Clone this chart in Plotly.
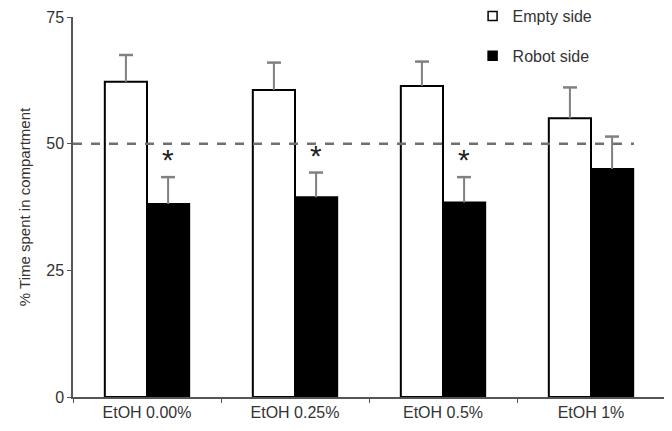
import plotly.graph_objects as go

groups = ['EtOH 0.00%', 'EtOH 0.25%', 'EtOH 0.5%', 'EtOH 1%']
empty_side = [62.2, 60.6, 61.4, 55.0]
empty_err = [5.3, 5.4, 4.8, 6.1]
robot_side = [38.1, 39.4, 38.4, 45.0]
robot_err = [5.3, 4.9, 5.0, 6.4]
signif = ['*', '*', '*', '']
chance_level = 50

font = 'Liberation Sans, Arial, sans-serif'
half = 0.142  # offset of each bar centre from the group centre
pos = list(range(len(groups)))

fig = go.Figure()
for name, vals, errs, col in [('Empty side', empty_side, empty_err, 'white'),
                              ('Robot side', robot_side, robot_err, 'black')]:
    fig.add_trace(go.Bar(x=groups, y=vals, name=name, showlegend=False,
                         marker=dict(color=col, line=dict(color='black', width=2)),
                         error_y=dict(type='data', array=errs, symmetric=False, arrayminus=[0]*4,
                                      color='#808080', thickness=2, width=0)))

# caps on top of the error bars (one-sided)
sh = [-half, half]
for k, (vals, errs) in enumerate([(empty_side, empty_err), (robot_side, robot_err)]):
    fig.add_trace(go.Scatter(x=[p + sh[k] for p in pos], y=[v + e for v, e in zip(vals, errs)],
                             xaxis='x2', mode='markers', showlegend=False, hoverinfo='skip',
                             marker=dict(symbol='line-ew', size=10, line=dict(color='#808080', width=2.5))))

# legend entries
for name, col, k in [('Empty side', 'white', 'a'), ('Robot side', 'black', 'b')]:
    fig.add_trace(go.Scatter(x=[None], y=[None], mode='markers', name=name, legendgroup=k,
                             marker=dict(symbol='square', size=9, color=col, line=dict(color='black', width=1.5))))

# significance stars above robot bars
for i, (v, e, s) in enumerate(zip(robot_side, robot_err, signif)):
    if s:
        fig.add_annotation(x=i + half, y=v + e, text=s, showarrow=False, xref='x2', yref='y',
                           yanchor='bottom', yshift=-1, font=dict(size=30, color='#222', family=font))

fig.add_shape(type='line', xref='x2', yref='y', x0=-0.5, x1=3.29, y0=chance_level, y1=chance_level,
              line=dict(color='#707070', width=2.5, dash='dash'), layer='above')

# page body has an 8px margin, so the figure is a little smaller than the window
fig.update_layout(
    width=664, height=423,
    barmode='group', bargap=0.43, bargroupgap=0,
    plot_bgcolor='white', paper_bgcolor='white',
    margin=dict(l=65, r=7, t=9, b=34, autoexpand=False),
    font=dict(family=font, size=16, color='#333'),
    legend=dict(x=0.675, y=1.047, xanchor='left', yanchor='top', tracegroupgap=16,
                bgcolor='rgba(0,0,0,0)', font=dict(size=16, color='#333')),
    xaxis=dict(showline=True, linecolor='#555', linewidth=1.5, ticks='outside', ticklen=4,
               tickson='boundaries', tickcolor='#555', tickfont=dict(size=16, color='#333')),
    xaxis2=dict(overlaying='x', range=[-0.5, 3.5], visible=False),
    yaxis=dict(range=[0, 75], tickvals=[0, 25, 50, 75], showline=True, linecolor='#555', linewidth=1.5,
               ticks='outside', ticklen=4, tickcolor='#555', showgrid=False, zeroline=False,
               title=dict(text='% Time spent in compartment', font=dict(size=15, color='#333'), standoff=12),
               tickfont=dict(size=16, color='#333')),
)

fig.write_html("out.html")
